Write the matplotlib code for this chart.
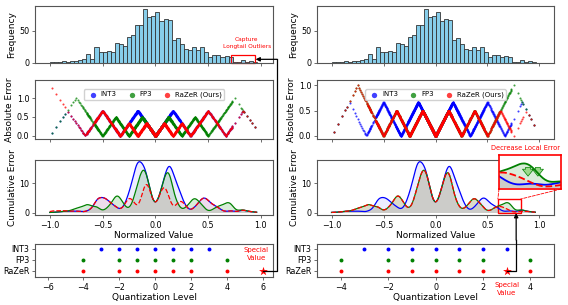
import numpy as np
import matplotlib.pyplot as plt
from matplotlib.patches import Rectangle, ConnectionPatch, FancyArrowPatch
from matplotlib.lines import Line2D

# ---- data ----
hist_counts = [1, 1, 1, 2, 1, 2, 3, 4, 6, 13, 6, 24, 16, 17, 18, 17, 31, 29, 26, 40,
               44, 59, 59, 84, 71, 73, 80, 66, 69, 67, 35, 39, 29, 22, 19, 25, 19, 24, 17, 9,
               12, 12, 8, 10, 9, 1, 1, 4, 1, 2, 1]
bin_start = -1.0
bin_width = 0.0385

int3_levels = [-3, -2, -1, 0, 1, 2, 3]
fp3_levels = [-4, -2, -1, 0, 1, 2, 4]
razer_levels = [-4, -2, -1, 0, 1, 2, 4]
special_left = 6     # RaZeR special value, left figure
special_right = 3    # RaZeR special value, right figure
err_unit = 4         # errors shown in FP3 level units

W, H = 568, 305
fig = plt.figure(figsize=(W / 100, H / 100), dpi=100)


def px_rect(x0, y0, x1, y1):
    return [x0 / W, 1 - y1 / H, (x1 - x0) / W, (y1 - y0) / H]


def to_fig(ax, xy):
    return fig.transFigure.inverted().transform(ax.transData.transform(xy))


# sample values spread evenly inside each histogram bin
edges = bin_start + bin_width * np.arange(len(hist_counts) + 1)
vals = np.concatenate([edges[i] + (np.arange(c) + 0.5) / c * bin_width
                       for i, c in enumerate(hist_counts)])


def quant_err(x, levels):
    grid = np.array(levels, float) / max(abs(l) for l in levels)
    q = grid[np.argmin(np.abs(x[:, None] - grid[None, :]), axis=1)]
    return err_unit * np.abs(x - q)


xs = np.linspace(-1.0, 0.96, 500)


def cum_curve(err, h=0.03):
    k = np.exp(-0.5 * ((xs[:, None] - vals[None, :]) / h) ** 2)
    return (k * err[None, :]).sum(1) * 0.02 / (h * np.sqrt(2 * np.pi))


spine_c = '#555555'
tick_kw = dict(labelsize=5.8, length=2.5, width=0.6, pad=1.5, color=spine_c)
lab_fs = 6.5
colors = ['blue', 'green', 'red']
fill_alpha = [0.07, 0.15, 0.07]
names = ['INT3', 'FP3', 'RaZeR (Ours)']

cols = [(35, 273, special_left, (-1.14, 1.115), (-6.7, 6.55), (-0.07, 1.48)),
        (317, 554, special_right, (-1.14, 1.14), (-5.0, 5.0), (-0.05, 1.1))]


def draw_cum(ax, curves, lw):
    for cv, c, a in zip(curves, colors, fill_alpha):
        ax.fill_between(xs, 0, cv, color=c, alpha=a, linewidth=0)
    ax.plot(xs, curves[0], color='blue', lw=lw)
    ax.plot(xs, curves[1], color='green', lw=lw)
    ax.plot(xs, curves[2], color='red', lw=lw, ls='--')


for ci, (x0, x1, special, xl, ql, al) in enumerate(cols):
    rz = sorted(razer_levels + [special])
    errs = [quant_err(vals, int3_levels), quant_err(vals, fp3_levels), quant_err(vals, rz)]

    axh = fig.add_axes(px_rect(x0, 6, x1, 62.5))
    axa = fig.add_axes(px_rect(x0, 80, x1, 138.5))
    axc = fig.add_axes(px_rect(x0, 160, x1, 215))
    axq = fig.add_axes(px_rect(x0, 244, x1, 277))
    for ax in (axh, axa, axc, axq):
        for s in ax.spines.values():
            s.set_color(spine_c)
            s.set_linewidth(0.8)
        ax.tick_params(**tick_kw)
    for ax in (axh, axa, axc):
        ax.set_xlim(*xl)
        ax.set_xticks([-1.0, -0.5, 0.0, 0.5, 1.0])
    axh.set_xticklabels([])
    axa.set_xticklabels([])

    # histogram
    axh.bar(edges[:-1], hist_counts, width=bin_width, align='edge', color='skyblue',
            edgecolor='#333333', linewidth=0.6)
    axh.set_ylim(0, 89)
    axh.set_yticks([0, 50])
    axh.set_ylabel('Frequency', fontsize=lab_fs, labelpad=2)

    # absolute error
    for e, c, n in zip(errs, colors, names):
        axa.scatter(vals, e, s=2.2, color=c, alpha=0.75, linewidths=0, label=n)
    axa.set_ylim(*al)
    axa.set_yticks([0.0, 0.5, 1.0])
    axa.set_ylabel('Absolute Error', fontsize=lab_fs, labelpad=2)
    axa.legend(loc='upper center', ncol=3, fontsize=5, markerscale=2.6, handletextpad=0.1,
               columnspacing=1.2, borderpad=0.3, framealpha=0.9, bbox_to_anchor=(0.5, 0.9))

    # cumulative error
    curves = [cum_curve(e) for e in errs]
    draw_cum(axc, curves, 0.9)
    axc.set_ylim(-0.85, 17.9)
    axc.set_yticks([0, 10])
    axc.set_xlabel('Normalized Value', fontsize=lab_fs, labelpad=1)
    axc.set_ylabel('Cumulative Error', fontsize=lab_fs, labelpad=2)

    # quantization levels
    for row, (lv, c) in enumerate(zip([razer_levels, fp3_levels, int3_levels],
                                      ['red', 'green', 'blue'])):
        axq.scatter(lv, [row] * len(lv), s=8, color=c, linewidths=0)
    axq.scatter([special], [0], s=45, marker='*', color='red', linewidths=0, zorder=5)
    axq.set_xlim(*ql)
    axq.set_ylim(-0.6, 2.45)
    axq.set_yticks([2, 1, 0])
    axq.set_yticklabels(['INT3', 'FP3', 'RaZeR'])
    axq.set_xlabel('Quantization Level', fontsize=lab_fs, labelpad=1)

    if ci == 0:
        axq.set_xticks([-6, -4, -2, 0, 2, 4, 6])
        axh.add_patch(Rectangle((0.715, -0.3), 0.23, 11.5, fill=False, ec='red', lw=0.9,
                                clip_on=False))
        axh.text(0.867, 30.5, 'Capture\nLongtail Outliers', color='red', fontsize=4.2,
                 ha='center', va='center', linespacing=1.5)
        axq.text(5.63, 1.54, 'Special\nValue', color='red', fontsize=5, ha='center',
                 va='center', linespacing=1.4)
        s0 = to_fig(axq, (special, 0))
        tip = to_fig(axh, (0.95, 5))
        xt = 277 / W
        fig.add_artist(Line2D([s0[0], xt, xt], [s0[1], s0[1], tip[1]],
                              transform=fig.transFigure, color='black', lw=0.9))
        fig.add_artist(FancyArrowPatch((xt, tip[1]), tip, transform=fig.transFigure,
                                       arrowstyle='-|>', mutation_scale=6, color='black',
                                       lw=0.9, shrinkA=0, shrinkB=0))
    else:
        axq.set_xticks([-4, -2, 0, 2, 4])
        zx, zy = (0.6, 0.82), (-0.2, 4.6)
        axc.add_patch(Rectangle((zx[0], zy[0]), zx[1] - zx[0], zy[1] - zy[0], fill=False,
                                ec='red', lw=1.0))
        axq.text(special, -1.69, 'Special\nValue', color='red', fontsize=5, ha='center',
                 va='center', linespacing=1.4, clip_on=False)

        axi = fig.add_axes(px_rect(499, 154.5, 561, 189))
        draw_cum(axi, curves, 1.3)
        axi.set_xlim(*zx)
        axi.set_ylim(*zy)
        axi.set_xticks([])
        axi.set_yticks([])
        for s in axi.spines.values():
            s.set_color('red')
            s.set_linewidth(1.2)
        axi.text(0.42, 1.1, 'Decrease Local Error', color='red', fontsize=4.8,
                 ha='center', va='bottom', transform=axi.transAxes)
        for ax_x in (0.703, 0.738):
            axi.add_patch(FancyArrowPatch((ax_x, 3.2), (ax_x, 1.2),
                                          arrowstyle='simple,head_length=0.5,head_width=0.8,'
                                                     'tail_width=0.35',
                                          mutation_scale=10, fc='#9ad88a', ec='green',
                                          lw=0.5))
        for a, b in [((0, 0), (zx[0], zy[1])), ((1, 0), (zx[1], zy[1]))]:
            fig.add_artist(ConnectionPatch(xyA=a, coordsA=axi.transAxes, xyB=b,
                                           coordsB=axc.transData, color='red', lw=0.6,
                                           ls='--'))

        s0 = to_fig(axq, (special, 0))
        tip = to_fig(axc, (0.776, zy[0]))
        fig.add_artist(Line2D([s0[0], tip[0], tip[0]], [s0[1], s0[1], s0[1] + 0.1],
                              transform=fig.transFigure, color='black', lw=0.9))
        fig.add_artist(FancyArrowPatch((tip[0], s0[1] + 0.1), tip, transform=fig.transFigure,
                                       arrowstyle='-|>', mutation_scale=6, color='black',
                                       lw=0.9, shrinkA=0, shrinkB=0))

fig.savefig('out.png', dpi=100)
